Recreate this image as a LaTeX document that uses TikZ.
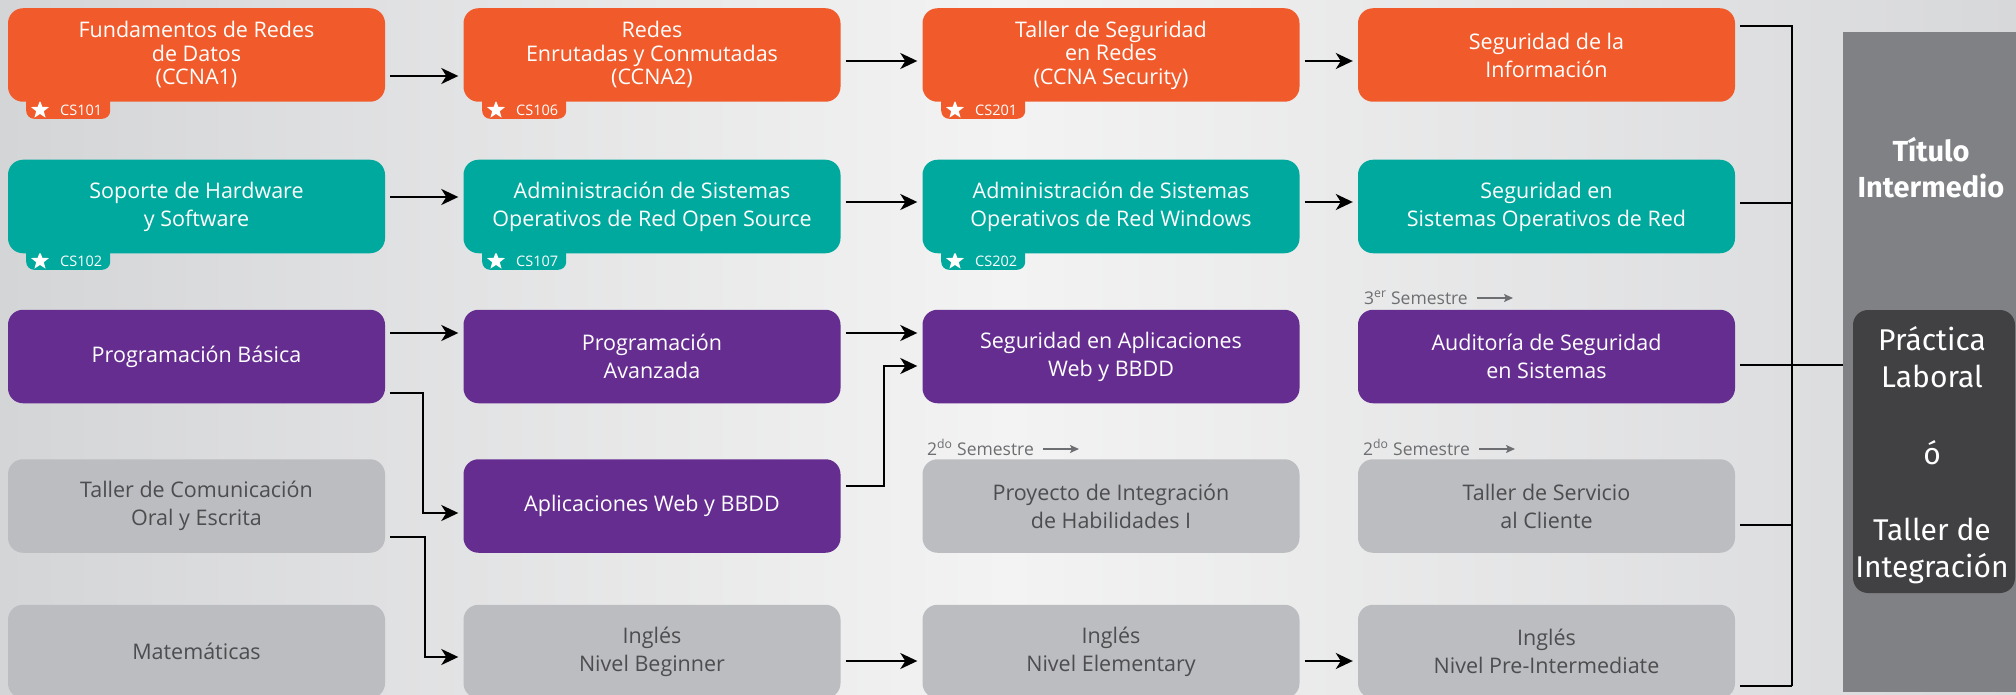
\documentclass[tikz,border=0pt]{standalone}
\usepackage{fontspec}
\usetikzlibrary{arrows.meta,shapes.geometric}
\newfontfamily\mainf{Open Sans}
\newfontfamily\panelf{Fira Sans}
\definecolor{cOr}{HTML}{F15B2C}
\definecolor{cTeal}{HTML}{00A99D}
\definecolor{cPurp}{HTML}{662D91}
\definecolor{cGry}{HTML}{BCBDC0}
\definecolor{cGtx}{HTML}{4D4D4F}
\definecolor{cPanel}{HTML}{808184}
\definecolor{cDark}{HTML}{414042}
\definecolor{cSem}{HTML}{6D6E71}
\definecolor{bgL}{HTML}{D4D5D7}
\definecolor{bgM}{HTML}{F3F3F3}
\definecolor{bgR}{HTML}{D7D8DA}
\newcommand\bxfont{\mainf\fontsize{21.5}{28}\selectfont}
\newcommand\bxfontt{\mainf\fontsize{21.5}{23.5}\selectfont}
\tikzset{
  box/.style={rounded corners=15pt, minimum width=377pt, minimum height=93.5pt,
    align=center, inner sep=0pt, font=\bxfont},
  tight/.style={font=\bxfontt},
  obox/.style={box, fill=cOr, text=white},
  tbox/.style={box, fill=cTeal, text=white},
  pbox/.style={box, fill=cPurp, text=white},
  gbox/.style={box, fill=cGry, text=cGtx},
  arr/.style={line width=2pt, -{Stealth[length=17pt,width=16pt,inset=5pt]},
    shorten <=5pt, shorten >=5pt},
  brk/.style={line width=2pt, black},
  badge/.style={rounded corners=8pt, minimum width=84pt, minimum height=30pt, inner sep=0pt},
  starn/.style={star, star points=5, star point ratio=2.4, fill=white, draw=none,
    minimum size=19pt, inner sep=0pt},
  bdtext/.style={font=\mainf\fontsize{14.5}{15}\selectfont, text=white, inner sep=0pt},
  sem/.style={font=\mainf\fontsize{17.5}{20}\selectfont, text=cSem, inner sep=0pt},
  semarr/.style={line width=1.6pt, cSem, -{Stealth[length=9pt,width=8pt,inset=2pt]}},
}
\begin{document}
\begin{tikzpicture}[x=1pt,y=-1pt]
\useasboundingbox (0,0) rectangle (2016,695);
\shade[left color=bgL, right color=bgR, middle color=bgM] (0,0) rectangle (2016,695);
% panel
\node[fill=cPanel, minimum width=173pt, minimum height=660pt, inner sep=0pt, anchor=north west] (panel) at (1843,32) {};
\node[font=\panelf\bfseries\fontsize{29}{36}\selectfont, text=white, align=center, inner sep=0pt] (titulo) at (1931,167.5) {Título\\Intermedio};
\node[fill=cDark, rounded corners=15pt, minimum width=162pt, minimum height=283pt, inner sep=0pt] (prac) at (1934,451.5) {};
\node[text=white, align=center, inner sep=0pt, font=\panelf\fontsize{30}{37}\selectfont] (practx) at (1932,455)
  {Práctica\\Laboral\\[40pt]ó\\[39pt]Taller de\\Integración};
% badges (drawn first)
\foreach \bx/\by/\bc/\bt in {8/102/cOr/CS101, 464/102/cOr/CS106, 923/102/cOr/CS201,
                              8/253/cTeal/CS102, 464/253/cTeal/CS107, 923/253/cTeal/CS202}{
  \node[badge, fill=\bc, anchor=south west] (bd\bt) at (\bx+18,\by+17) {};
  \node[starn] (st\bt) at (\bx+32,\by+8) {};
  \node[bdtext, anchor=west] (tx\bt) at (\bx+52,\by+8.5) {\bt};
}
% row 1
\node[obox, tight] (a1) at (196.5,55) {Fundamentos de Redes\\de Datos\\(CCNA1)};
\node[obox, tight] (a2) at (652,55) {Redes\\Enrutadas y Conmutadas\\(CCNA2)};
\node[obox, tight] (a3) at (1111,55) {Taller de Seguridad\\en Redes\\(CCNA Security)};
\node[obox] (a4) at (1546.5,55) {Seguridad de la\\Información};
% row 2
\node[tbox] (b1) at (196.5,206.5) {Soporte de Hardware\\y Software};
\node[tbox] (b2) at (652,206.5) {Administración de Sistemas\\Operativos de Red Open Source};
\node[tbox] (b3) at (1111,206.5) {Administración de Sistemas\\Operativos de Red Windows};
\node[tbox] (b4) at (1546.5,206.5) {Seguridad en\\Sistemas Operativos de Red};
% row 3
\node[pbox] (c1) at (196.5,356.5) {Programación Básica};
\node[pbox] (c2) at (652,356.5) {Programación\\Avanzada};
\node[pbox] (c3) at (1111,356.5) {Seguridad en Aplicaciones\\Web y BBDD};
\node[pbox] (c4) at (1546.5,356.5) {Auditoría de Seguridad\\en Sistemas};
% row 4
\node[gbox] (d1) at (196.5,506) {Taller de Comunicación\\Oral y Escrita};
\node[pbox] (d2) at (652,506) {Aplicaciones Web y BBDD};
\node[gbox] (d3) at (1111,506) {Proyecto de Integración\\de Habilidades I};
\node[gbox] (d4) at (1546.5,506) {Taller de Servicio\\al Cliente};
% row 5
\node[gbox] (e1) at (196.5,651.5) {Matemáticas};
\node[gbox] (e2) at (652,651.5) {Inglés\\Nivel Beginner};
\node[gbox] (e3) at (1111,651.5) {Inglés\\Nivel Elementary};
\node[gbox] (e4) at (1546.5,651.5) {Inglés\\Nivel Pre-Intermediate};
% semester labels
\node[sem, anchor=base west] (s3) at (1364,304) {3\textsuperscript{er} Semestre};
\draw[semarr] ([xshift=9pt,yshift=6pt]s3.base east) -- ++(36,0);
\node[sem, anchor=base west] (s2a) at (927,455) {2\textsuperscript{do} Semestre};
\draw[semarr] ([xshift=9pt,yshift=6pt]s2a.base east) -- ++(36,0);
\node[sem, anchor=base west] (s2b) at (1363,455) {2\textsuperscript{do} Semestre};
\draw[semarr] ([xshift=9pt,yshift=6pt]s2b.base east) -- ++(36,0);
% straight arrows
\draw[arr] ([yshift=-21pt]a1.east) -- ([yshift=-21pt]a2.west);
\draw[arr] ([yshift=-6pt]a2.east) -- ([yshift=-6pt]a3.west);
\draw[arr] ([yshift=-6pt]a3.east) -- ([yshift=-6pt]a4.west);
\draw[arr] ([yshift=9.5pt]b1.east) -- ([yshift=9.5pt]b2.west);
\draw[arr] ([yshift=4.5pt]b2.east) -- ([yshift=4.5pt]b3.west);
\draw[arr] ([yshift=4.5pt]b3.east) -- ([yshift=4.5pt]b4.west);
\draw[arr] ([yshift=23.5pt]c1.east) -- ([yshift=23.5pt]c2.west);
\draw[arr] ([yshift=23.5pt]c2.east) -- ([yshift=23.5pt]c3.west);
\draw[arr] ([yshift=-9.5pt]e2.east) -- ([yshift=-9.5pt]e3.west);
\draw[arr] ([yshift=-9.5pt]e3.east) -- ([yshift=-9.5pt]e4.west);
% elbow arrows
\draw[arr] ([yshift=-36.5pt]c1.east) -- ++(38,0) |- ([yshift=-7pt]d2.west);
\draw[arr] ([yshift=-31pt]d1.east) -- ++(40,0) |- ([yshift=-5.5pt]e2.west);
\draw[arr] ([yshift=20pt]d2.east) -- ++(43.5,0) |- ([yshift=-9.5pt]c3.west);
% bracket
\coordinate (j1) at (1792,26);
\coordinate (j2) at (1792,203);
\coordinate (j3) at (1792,365);
\coordinate (j4) at (1792,525);
\coordinate (j5) at (1792,686);
\draw[brk, shorten <=5pt] (a4.east |- j1) -- (j1) -- (j5);
\draw[brk, shorten <=5pt] (e4.east |- j5) -- (j5);
\draw[brk, shorten <=5pt] (b4.east |- j2) -- (j2);
\draw[brk, shorten <=5pt] (c4.east |- j3) -- (j3) -- (panel.west |- j3);
\draw[brk, shorten <=5pt] (d4.east |- j4) -- (j4);
\end{tikzpicture}
\end{document}
